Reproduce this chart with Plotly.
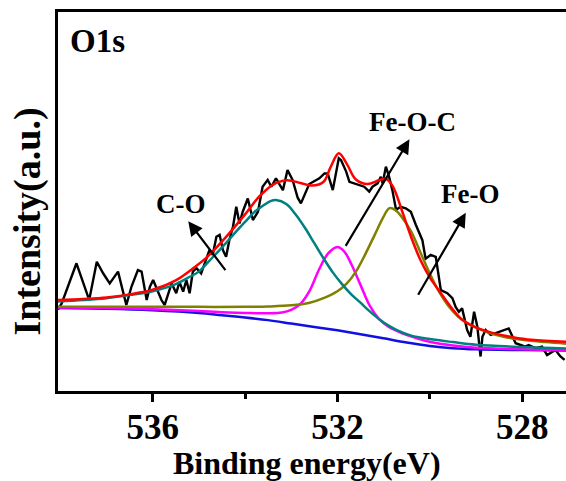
import plotly.graph_objects as go

# ---- data (binding energy in eV, intensity in arbitrary units) ----
raw_be = [538.05, 537.97, 537.65, 537.40, 537.36, 537.21, 537.07, 536.93, 536.75, 536.57,
          536.46, 536.32, 536.24, 536.13, 536.06, 535.99, 535.81, 535.74, 535.59, 535.49,
          535.42, 535.34, 535.27, 535.20, 535.13, 535.05, 534.95, 534.84, 534.77, 534.70,
          534.62, 534.55, 534.48, 534.41, 534.34, 534.26, 534.19, 534.12, 534.05, 533.94,
          533.83, 533.72, 533.62, 533.51, 533.43, 533.33, 533.18, 533.08, 532.97, 532.86,
          532.79, 532.61, 532.39, 532.28, 532.21, 532.10, 532.03, 531.97, 531.92, 531.81,
          531.74, 531.64, 531.53, 531.42, 531.31, 531.24, 531.13, 531.06, 531.02, 530.95,
          530.88, 530.81, 530.73, 530.63, 530.52, 530.41, 530.30, 530.16, 530.09, 529.98,
          529.87, 529.84, 529.76, 529.62, 529.51, 529.44, 529.37, 529.30, 529.19, 529.12,
          529.04, 528.97, 528.90, 528.86, 528.79, 528.68, 528.58, 528.47, 528.29, 528.14,
          528.04, 527.93, 527.86, 527.71, 527.57, 527.46, 527.28, 527.17, 527.08]
raw_int = [21.5, 23.1, 33.7, 24.9, 24.9, 34.1, 31.0, 28.4, 31.5, 22.7,
           27.5, 31.9, 31.5, 24.0, 27.5, 29.3, 24.0, 22.7, 28.4, 25.8,
           28.8, 26.2, 29.3, 25.8, 31.5, 32.4, 31.0, 34.6, 37.2, 35.9,
           40.7, 41.2, 37.2, 35.4, 39.8, 43.4, 48.6, 44.2, 47.3, 50.8,
           45.1, 47.3, 53.9, 55.7, 53.9, 56.1, 53.0, 58.3, 55.7, 51.0,
           49.5, 54.6, 56.1, 57.4, 57.4, 53.0, 57.9, 61.4, 60.9, 57.9,
           55.2, 54.8, 54.4, 53.9, 52.6, 53.9, 54.8, 56.5, 54.8, 59.2,
           56.5, 53.0, 47.8, 48.6, 48.2, 47.3, 43.8, 39.8, 34.9, 35.9,
           35.4, 32.8, 26.6, 25.8, 24.5, 22.2, 20.9, 21.8, 16.1, 14.3,
           20.9, 17.0, 9.1, 14.3, 16.1, 14.8, 15.2, 15.6, 16.5, 12.6,
           12.1, 11.7, 12.1, 11.3, 11.7, 9.5, 10.8, 9.1, 8.2]

bg_be = [538.05, 537.0, 536.0, 535.0, 534.5, 534.0, 533.5, 533.0, 532.5, 532.0,
         531.5, 531.0, 530.5, 530.0, 529.5, 529.0, 528.0, 527.05]
bg_int = [21.9, 21.7, 21.3, 20.6, 20.0, 19.4, 18.7, 17.8, 16.9, 16.0,
          15.0, 13.9, 12.8, 11.9, 11.3, 11.0, 10.8, 10.7]

feoc_be = [538.05, 537.0, 536.0, 535.0, 534.5, 534.0, 533.5, 533.2, 533.0, 532.8,
           532.6, 532.4, 532.2, 532.0, 531.85, 531.7, 531.5, 531.3, 531.1, 530.9,
           530.6, 530.3, 530.0, 529.5, 529.0, 528.0, 527.05]
feoc_int = [22.0, 21.9, 21.6, 21.1, 20.8, 20.6, 20.5, 20.7, 21.4, 23.0,
            26.5, 32.0, 36.3, 38.0, 36.8, 33.5, 28.0, 22.5, 19.0, 17.0,
            15.2, 14.0, 13.0, 12.0, 11.4, 11.0, 10.8]

feo_be = [538.05, 537.0, 536.0, 535.0, 534.0, 533.5, 533.0, 532.6, 532.3, 532.0,
          531.8, 531.6, 531.4, 531.2, 531.0, 530.88, 530.75, 530.6, 530.4, 530.2,
          530.0, 529.8, 529.6, 529.4, 529.2, 529.0, 528.7, 528.4, 528.0, 527.5, 527.05]
feo_int = [22.2, 22.2, 22.2, 22.2, 22.2, 22.3, 22.6, 23.3, 24.5, 26.3,
           28.3, 31.5, 36.0, 41.0, 46.0, 48.2, 47.8, 45.8, 42.0, 36.5,
           31.0, 26.2, 22.5, 19.8, 18.0, 16.7, 15.3, 14.3, 13.5, 12.9, 12.5]

co_be = [538.05, 537.5, 537.0, 536.5, 536.0, 535.5, 535.25, 535.0, 534.8, 534.6,
         534.4, 534.2, 534.0, 533.8, 533.6, 533.45, 533.33, 533.1, 532.9, 532.7,
         532.5, 532.3, 532.1, 531.9, 531.7, 531.5, 531.3, 531.1, 530.9, 530.7,
         530.4, 530.0, 529.5, 529.0, 528.0, 527.05]
co_int = [23.6, 24.0, 24.5, 25.3, 26.3, 28.2, 29.8, 31.5, 34.0, 36.6,
          39.2, 42.0, 44.6, 47.2, 49.0, 50.1, 50.4, 49.3, 46.5, 43.0,
          39.0, 35.0, 31.3, 28.2, 25.5, 23.3, 21.0, 19.0, 17.3, 16.0,
          14.6, 13.7, 12.9, 12.2, 11.6, 11.2]

fit_be = [538.05, 537.5, 537.0, 536.5, 536.0, 535.5, 535.1, 534.8, 534.4, 534.0,
          533.7, 533.4, 533.1, 532.8, 532.55, 532.3, 532.15, 531.97, 531.8, 531.6,
          531.35, 531.1, 530.95, 530.8, 530.6, 530.4, 530.2, 530.0, 529.8, 529.5,
          529.3, 529.0, 528.6, 528.2, 527.8, 527.05]
fit_int = [24.0, 24.3, 24.7, 25.5, 26.7, 29.2, 32.6, 35.6, 40.8, 46.6,
           51.2, 54.4, 55.6, 54.9, 54.2, 55.2, 59.0, 62.7, 60.0, 55.8,
           54.6, 55.6, 56.0, 54.0, 47.5, 40.5, 34.5, 30.0, 26.5, 21.5,
           18.8, 16.8, 15.2, 14.2, 13.5, 13.0]

x_ticks = [536, 532, 528]
x_minor = [534, 530]

labels = ["C-O", "Fe-O-C", "Fe-O"]
label_pos = [(535.38, 49.3), (530.375, 70.9), (529.12, 51.9)]
arrow_head = [(535.23, 44.8), (530.44, 66.4), (529.22, 47.0)]
arrow_tail = [(534.40, 31.5), (531.84, 37.9), (530.27, 25.0)]

FONT = "Liberation Serif, Times New Roman, serif"

fig = go.Figure()
fig.add_trace(go.Scatter(x=raw_be, y=raw_int, mode="lines",
                         line=dict(color="black", width=2.4)))
fig.add_trace(go.Scatter(x=bg_be, y=bg_int, mode="lines",
                         line=dict(color="#1010e0", width=2.5, shape="spline")))
fig.add_trace(go.Scatter(x=feoc_be, y=feoc_int, mode="lines",
                         line=dict(color="#ff00ff", width=2.5, shape="spline")))
fig.add_trace(go.Scatter(x=feo_be, y=feo_int, mode="lines",
                         line=dict(color="#808000", width=2.5, shape="spline")))
fig.add_trace(go.Scatter(x=co_be, y=co_int, mode="lines",
                         line=dict(color="#008080", width=2.5, shape="spline")))
fig.add_trace(go.Scatter(x=fit_be, y=fit_int, mode="lines",
                         line=dict(color="#ff0000", width=2.5, shape="spline")))

annotations = []
for t, (lx, ly) in zip(labels, label_pos):
    annotations.append(dict(x=lx, y=ly, xref="x", yref="y", text=t, showarrow=False,
                            font=dict(family=FONT, size=27, color="black", weight="bold"),
                            xanchor="center", yanchor="middle"))
for (hx, hy), (tx, ty) in zip(arrow_head, arrow_tail):
    annotations.append(dict(x=hx, y=hy, xref="x", yref="y", ax=tx, ay=ty,
                            axref="x", ayref="y", text="", showarrow=True,
                            arrowhead=2, arrowsize=1.3, arrowwidth=2.2,
                            arrowcolor="black"))
annotations.append(dict(x=537.2, y=92.3, xref="x", yref="y", text="O1s", showarrow=False,
                        font=dict(family=FONT, size=33, color="black", weight="bold"),
                        xanchor="center", yanchor="middle"))
annotations.append(dict(x=-0.06, y=0.446, xref="paper", yref="paper",
                        text="Intensity(a.u.)", textangle=-90, showarrow=False,
                        font=dict(family=FONT, size=38, color="black", weight="bold"),
                        xanchor="center", yanchor="middle"))
annotations.append(dict(x=0.49, y=-0.19, xref="paper", yref="paper",
                        text="Binding energy(eV)", showarrow=False,
                        font=dict(family=FONT, size=32, color="black", weight="bold"),
                        xanchor="center", yanchor="middle"))

fig.update_layout(
    width=566, height=481,
    margin=dict(l=58, r=0, t=12, b=90, pad=0),
    paper_bgcolor="white", plot_bgcolor="white",
    showlegend=False,
    annotations=annotations,
    xaxis=dict(range=[538.05, 527.05], showline=True, linewidth=2.5, linecolor="black",
               mirror=True, showgrid=False, zeroline=False,
               ticks="outside", ticklen=8, tickwidth=2.5, tickcolor="black",
               tickmode="array", tickvals=x_ticks, ticktext=[str(v) for v in x_ticks],
               ticklabelstandoff=-5,
               tickfont=dict(family=FONT, size=35, color="black", weight="bold"),
               minor=dict(tickmode="array", tickvals=x_minor, ticks="outside",
                          ticklen=5, tickwidth=2.5, tickcolor="black", showgrid=False)),
    yaxis=dict(range=[0, 100], showline=True, linewidth=2.5, linecolor="black",
               mirror=False, showgrid=False, zeroline=False, ticks="",
               showticklabels=False),
)

fig.write_html("out.html")
